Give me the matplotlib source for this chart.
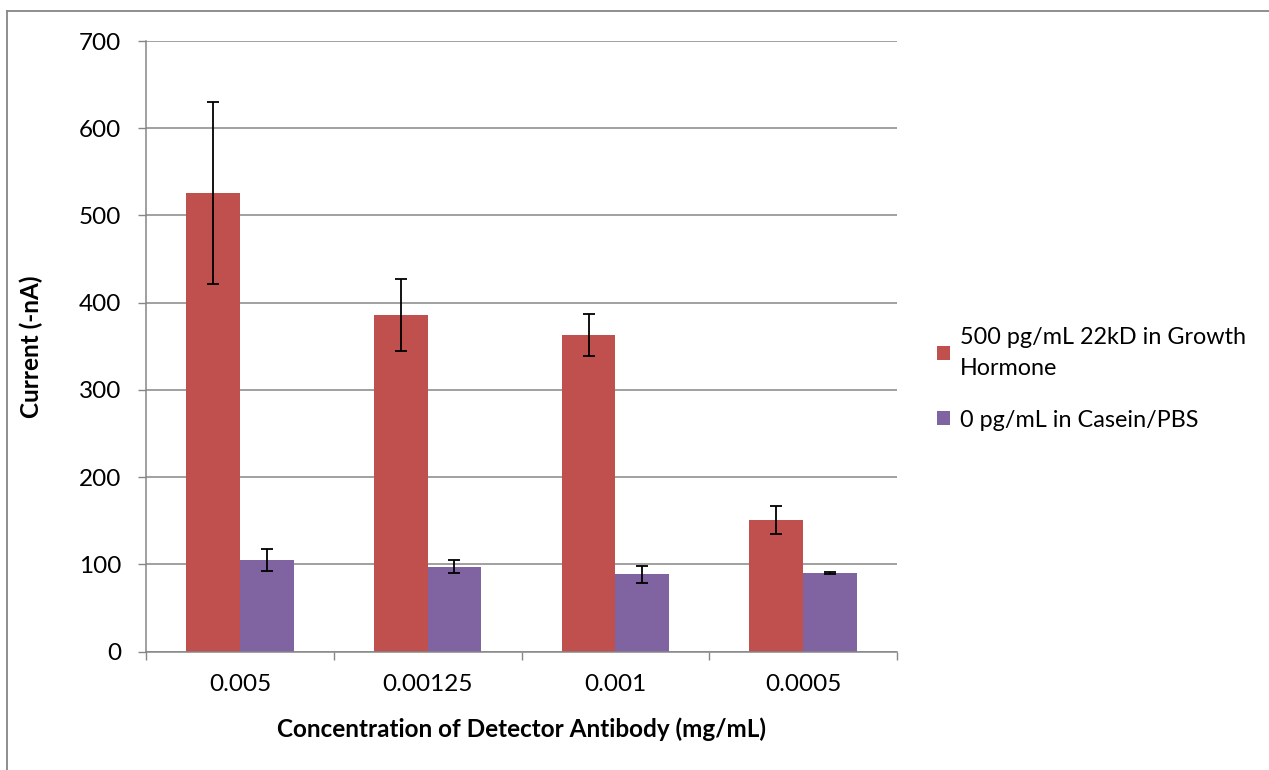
import numpy as np
import matplotlib
matplotlib.use("Agg")
import matplotlib.pyplot as plt
from matplotlib.lines import Line2D

plt.rcParams['font.family'] = ['Lato', 'DejaVu Sans']

categories = ['0.005', '0.00125', '0.001', '0.0005']
gh_mean = [526, 386, 363, 151]
gh_err = [104, 41, 24, 16]
casein_mean = [105, 97.5, 88.7, 90.6]
casein_err = [12.5, 7.5, 10, 1]
series_names = ['500 pg/mL 22kD in Growth\nHormone', '0 pg/mL in Casein/PBS']
colors = ['#C0504D', '#8064A2']

W, H = 1269, 770
FS = 17.5
fig = plt.figure(figsize=(W / 100, H / 100), dpi=100)
ax = fig.add_axes([146 / W, (H - 651.7) / H, 751 / W, 610.7 / H])

grid_c = '#868686'
x = np.arange(len(categories))
bw = 1 / 3.5
ax.bar(x - bw / 2, gh_mean, bw, color=colors[0], label=series_names[0], zorder=2)
ax.bar(x + bw / 2, casein_mean, bw, color=colors[1], label=series_names[1], zorder=2)
ax.errorbar(x - bw / 2, gh_mean, yerr=gh_err, fmt='none', ecolor='black',
            elinewidth=1.3, capsize=4.5, capthick=1.3, zorder=3)
ax.errorbar(x + bw / 2, casein_mean, yerr=casein_err, fmt='none', ecolor='black',
            elinewidth=1.3, capsize=4.5, capthick=1.3, zorder=3)

ax.set_xlim(-0.5, len(categories) - 0.5)
ax.set_ylim(0, 700)
ax.set_yticks(range(0, 701, 100))
ax.set_xticks(np.arange(-0.5, len(categories), 1.0))
ax.set_xticklabels([])
ax.set_xticks(x, minor=True)
ax.set_xticklabels(categories, minor=True)
ax.tick_params(axis='x', which='minor', length=0, pad=16, labelsize=FS)
ax.tick_params(axis='x', which='major', length=6, width=1, color=grid_c)
ax.tick_params(axis='y', length=6, width=1, color=grid_c, pad=12, labelsize=FS)
ax.yaxis.grid(True, color=grid_c, linewidth=1.1, zorder=0)
ax.set_axisbelow(True)
for s in ['top', 'right']:
    ax.spines[s].set_visible(False)
for s in ['left', 'bottom']:
    ax.spines[s].set_color(grid_c)
    ax.spines[s].set_linewidth(1.1)

ax.set_xlabel('Concentration of Detector Antibody (mg/mL)', fontsize=FS, fontweight='bold')
ax.set_ylabel('Current (-nA)', fontsize=FS, fontweight='bold')
ax.xaxis.set_label_coords(0.5, -0.107)
ax.yaxis.set_label_coords(-0.137, 0.5)

leg = fig.legend(loc='upper left', bbox_to_anchor=(916 / W, 1 - 306 / H), frameon=False,
                 fontsize=16.8, handlelength=0.55, handleheight=0.55, handletextpad=0.45,
                 labelspacing=1.3)
for t in leg.get_texts():
    t.set_linespacing(1.6)

# chart area border (left and top edges)
fig.add_artist(Line2D([7 / W, 7 / W], [0, 1 - 11 / H], transform=fig.transFigure,
                      color=grid_c, linewidth=1.3))
fig.add_artist(Line2D([7 / W, 1], [1 - 11 / H, 1 - 11 / H], transform=fig.transFigure,
                      color=grid_c, linewidth=1.3))

fig.savefig('out.png', dpi=100)
